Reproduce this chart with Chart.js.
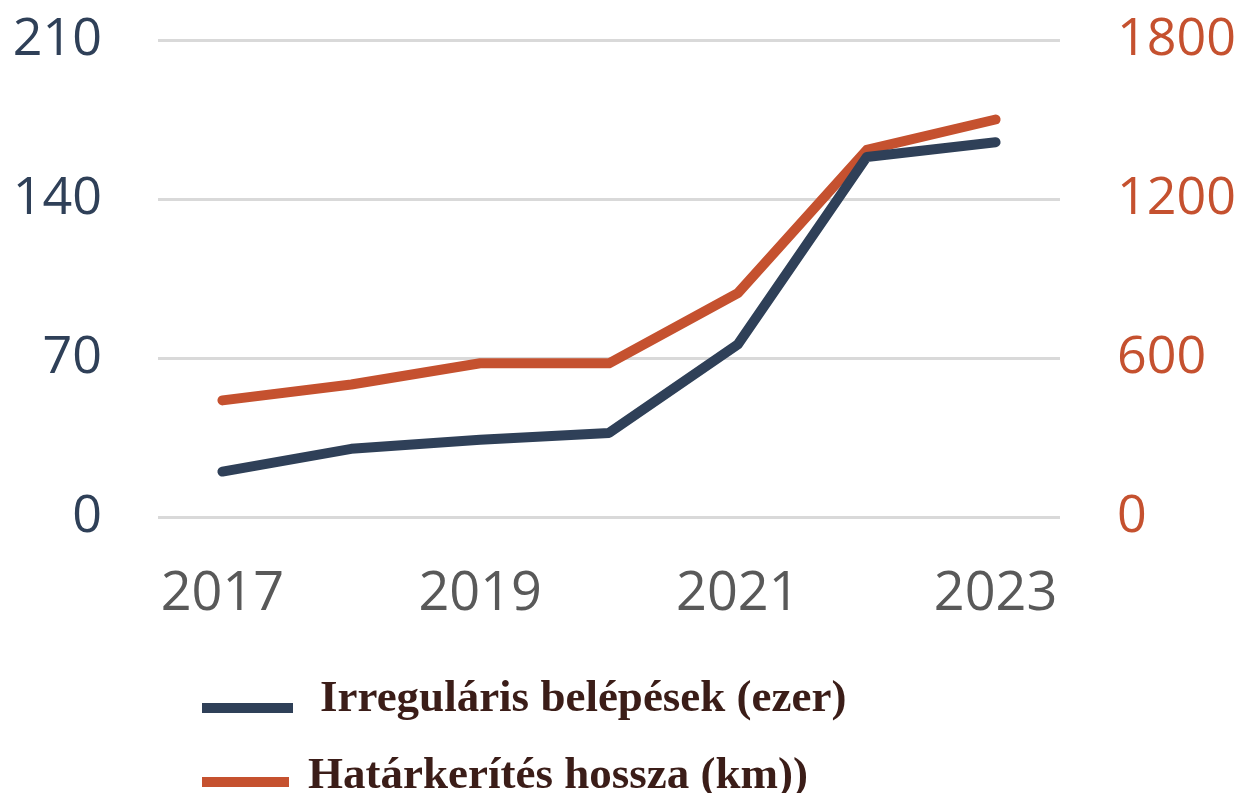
<!DOCTYPE html>
<html>
<head>
<meta charset="utf-8">
<script src="https://cdn.jsdelivr.net/npm/chart.js@4.4.0/dist/chart.umd.min.js"></script>
<style>
  html, body { margin: 0; padding: 0; background: #fff; }
  #wrap { width: 1241px; height: 793px; position: relative; }
</style>
</head>
<body>
<div id="wrap"><canvas id="myChart"></canvas></div>
<script>
// data
const years = ["2017", "2018", "2019", "2020", "2021", "2022", "2023"];
const entries = [20, 30, 34, 37, 76, 158.5, 165];          // thousand
const fenceKm = [440, 500, 580, 580, 845, 1385, 1500];     // km
const leftTicks = [0, 70, 140, 210];
const rightTicks = [0, 600, 1200, 1800];

const navy = "#2f4058";
const rust = "#c5512f";

// legend drawn under the plot
const bottomLegend = {
  id: "bottomLegend",
  afterDraw(chart) {
    const { ctx } = chart;
    const rows = [
      { lineY: 708, x2: 293, textX: 320, textY: 699 },
      { lineY: 782, x2: 289, textX: 308, textY: 776 },
    ];
    ctx.save();
    chart.data.datasets.forEach((ds, i) => {
      const r = rows[i];
      ctx.strokeStyle = ds.borderColor;
      ctx.lineWidth = 10;
      ctx.lineCap = "butt";
      ctx.beginPath();
      ctx.moveTo(202, r.lineY);
      ctx.lineTo(r.x2, r.lineY);
      ctx.stroke();
      ctx.font = "bold 45px 'Liberation Serif'";
      ctx.fillStyle = "#3b1d18";
      ctx.textBaseline = "middle";
      ctx.textAlign = "left";
      ctx.fillText(ds.label, r.textX, r.textY);
    });
    ctx.restore();
  },
};

// no extra room above/below the plot for half tick labels
function fixY(width) {
  return function (scale) {
    scale.width = width;
    scale.paddingTop = 0;
    scale.paddingBottom = 0;
  };
}

const data = {
  labels: years,
  datasets: [
    {
      label: "Irreguláris belépések (ezer)",
      data: entries,
      yAxisID: "y",
      borderColor: navy,
      backgroundColor: navy,
      borderWidth: 10,
      borderCapStyle: "round",
      borderJoinStyle: "round",
      pointRadius: 0,
      tension: 0,
    },
    {
      label: "Határkerítés hossza (km))",
      data: fenceKm,
      yAxisID: "y1",
      borderColor: rust,
      backgroundColor: rust,
      borderWidth: 10,
      borderCapStyle: "round",
      borderJoinStyle: "round",
      pointRadius: 0,
      tension: 0,
    },
  ],
};

const config = {
  type: "line",
  data: data,
  options: {
    responsive: false,
    animation: false,
    layout: { padding: { top: 40, bottom: 166, left: 0, right: 0 } },
    plugins: {
      legend: { display: false },
      tooltip: { enabled: false },
    },
    scales: {
      x: {
        offset: true,
        grid: { display: false, drawTicks: false },
        border: { display: false },
        afterFit(scale) { scale.height = 110; },
        ticks: {
          autoSkip: false,
          maxRotation: 0,
          padding: 45,
          color: "#595959",
          font: { family: "'Open Sans'", size: 54 },
          callback(val, i) { return i % 2 === 0 ? years[i] : ""; },
        },
      },
      y: {
        position: "left",
        min: 0,
        max: 210,
        afterFit: fixY(158),
        afterBuildTicks(scale) { scale.ticks = leftTicks.map(v => ({ value: v })); },
        grid: { color: "#d9d9d9", lineWidth: 3, drawTicks: false },
        border: { display: false },
        ticks: {
          padding: 56,
          color: navy,
          font: { family: "'Open Sans'", size: 52 },
          callback: v => String(v),
        },
      },
      y1: {
        position: "right",
        min: 0,
        max: 1800,
        afterFit: fixY(181),
        afterBuildTicks(scale) { scale.ticks = rightTicks.map(v => ({ value: v })); },
        grid: { display: false, drawTicks: false },
        border: { display: false },
        ticks: {
          padding: 57,
          color: rust,
          font: { family: "'Open Sans'", size: 52 },
          callback: v => String(v),
        },
      },
    },
  },
  plugins: [bottomLegend],
};

const canvas = document.getElementById("myChart");
canvas.width = 1241;
canvas.height = 793;
const myChart = new Chart(canvas, config);
</script>
</body>
</html>
